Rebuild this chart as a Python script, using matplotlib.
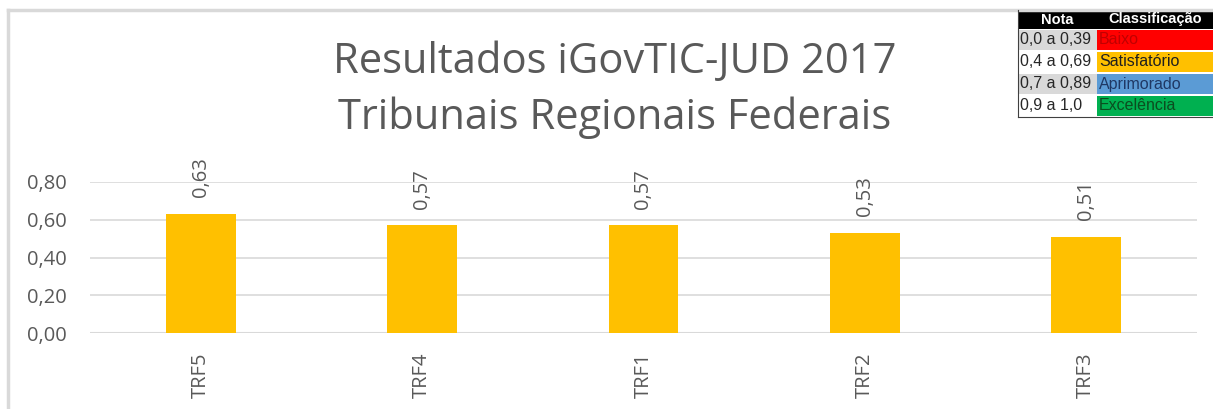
import matplotlib.pyplot as plt
import matplotlib.patches as mpatches

# Data
tribunais = ['TRF5', 'TRF4', 'TRF1', 'TRF2', 'TRF3']
notas = [0.63, 0.57, 0.57, 0.53, 0.51]
yticks = [0.0, 0.2, 0.4, 0.6, 0.8]

faixas = ['0,0 a 0,39', '0,4 a 0,69', '0,7 a 0,89', '0,9 a 1,0']
classes = ['Baixo', 'Satisfatório', 'Aprimorado', 'Excelência']
cores_classe = ['#ff0000', '#ffc000', '#5b9bd5', '#00b050']
cores_texto = ['#c00000', '#1f1f1f', '#1f3864', '#0b4d1f']
cores_faixa = ['#d9d9d9', '#ffffff', '#d9d9d9', '#ffffff']

W, H = 1213, 409
fig = plt.figure(figsize=(W / 100, H / 100), dpi=100)
plt.rcParams['font.family'] = ['Open Sans', 'DejaVu Sans']
grey = '#595959'

# outer border of the chart area (top and left visible)
fig.add_artist(plt.Line2D([8 / W, 8 / W], [0, 1 - 10 / H], color='#d9d9d9', lw=2.5))
fig.add_artist(plt.Line2D([8 / W, 1], [1 - 10 / H, 1 - 10 / H], color='#d9d9d9', lw=2.5))

ax = fig.add_axes([90 / W, 1 - 333 / H, (1197 - 90) / W, (333 - 182) / H])
x = range(len(tribunais))
ax.bar(x, notas, width=0.315, color='#ffc000', zorder=3)
ax.set_xlim(-0.5, len(tribunais) - 0.5)
ax.set_ylim(0, 0.8)
ax.set_yticks(yticks)
ax.set_yticklabels([f'{v:.2f}'.replace('.', ',') for v in yticks], color=grey, fontsize=14.5)
ax.set_xticks(list(x))
ax.set_xticklabels(tribunais, rotation=90, color=grey, fontsize=14.5)
ax.tick_params(axis='y', length=0, pad=17)
ax.tick_params(axis='x', length=0, pad=14)
ax.grid(axis='y', color='#d9d9d9', lw=1.2, zorder=0)
for s in ax.spines.values():
    s.set_visible(False)
ax.axhline(0, color='#d9d9d9', lw=1.5, zorder=2)

for i, v in enumerate(notas):
    ax.annotate(f'{v:.2f}'.replace('.', ','), (i, v), xytext=(0, 12), textcoords='offset points',
                rotation=90, ha='center', va='bottom', color=grey, fontsize=14.5, clip_on=False)

fig.text(615 / W, 1 - 62 / H, 'Resultados iGovTIC-JUD 2017', ha='center', va='center',
         color=grey, fontsize=30)
fig.text(615 / W, 1 - 118 / H, 'Tribunais Regionais Federais', ha='center', va='center',
         color=grey, fontsize=30)

# classification table
x0, xm, x1 = 1018, 1097, 1213
y0 = 10
rh = [19, 22, 22, 22, 22]


def cell(xa, xb, ya, yb, fc, text, tc, ha='left', bold=False, size=11.5):
    fig.add_artist(mpatches.Rectangle((xa / W, 1 - yb / H), (xb - xa) / W, (yb - ya) / H,
                                      facecolor=fc, edgecolor='none', transform=fig.transFigure))
    tx = (xa + 2) / W if ha == 'left' else (xa + xb) / 2 / W
    fig.text(tx, 1 - (ya + yb) / 2 / H, text, ha=ha, va='center', color=tc, fontsize=size,
             family=['Liberation Sans', 'DejaVu Sans'], fontweight='bold' if bold else 'normal')


cell(x0, xm, y0, y0 + rh[0], '#000000', 'Nota', 'white', ha='center', bold=True, size=10.5)
cell(xm, x1, y0, y0 + rh[0], '#000000', 'Classificação', 'white', ha='center', bold=True, size=10.5)
ya = y0 + rh[0]
for i in range(4):
    yb = ya + rh[i + 1]
    cell(x0, xm, ya + 1, yb - 1, cores_faixa[i], faixas[i], '#262626')
    cell(xm, x1, ya + 1, yb - 1, cores_classe[i], classes[i], cores_texto[i])
    ya = yb
fig.add_artist(plt.Line2D([x0 / W, x0 / W], [1 - y0 / H, 1 - ya / H], color='#404040', lw=0.8))
fig.add_artist(plt.Line2D([x0 / W, x1 / W], [1 - ya / H, 1 - ya / H], color='#404040', lw=0.8))

fig.savefig('out.png', dpi=100)
